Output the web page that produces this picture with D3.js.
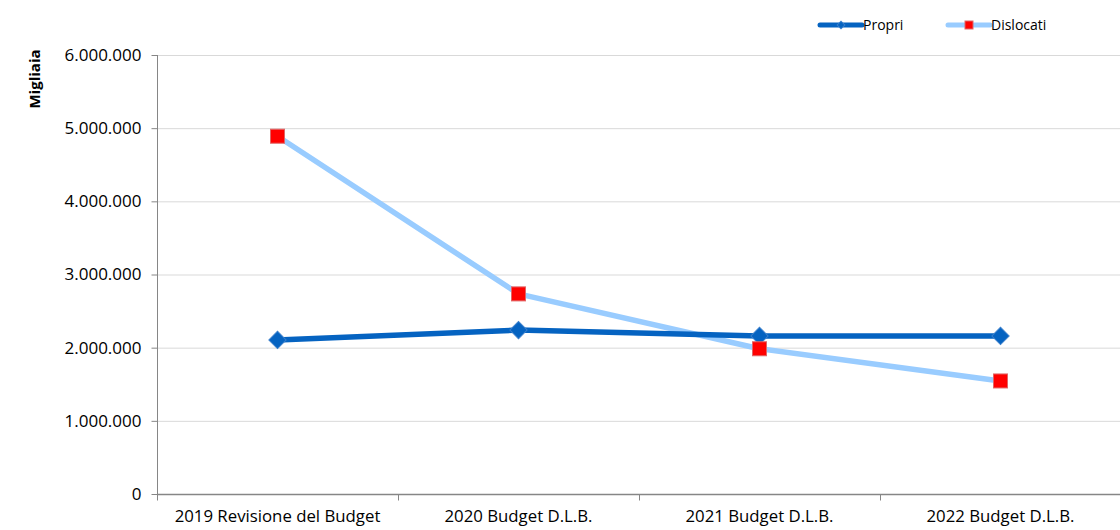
<!DOCTYPE html>
<html><head><meta charset="utf-8">
<script src="https://cdn.jsdelivr.net/npm/d3@7"></script>
<style>body{margin:0;background:#fff}svg{display:block}</style>
</head><body>
<svg id="c" width="1120" height="530"></svg>
<script>
const categories = ["2019 Revisione del Budget","2020 Budget D.L.B.","2021 Budget D.L.B.","2022 Budget D.L.B."];
const propri = [2105000, 2240000, 2160000, 2160000];
const dislocati = [4890000, 2735000, 1985000, 1545000];
const yTicks = [0,1000000,2000000,3000000,4000000,5000000,6000000];
const seriesNames = ["Propri","Dislocati"];

const svg = d3.select("#c");
const font = "'Open Sans', sans-serif";
const x = d3.scaleBand().domain(categories).range([157,1121]);
const y = d3.scaleLinear().domain([0,6000000]).range([494,55]);
const fmt = v => v===0 ? "0" : d3.format(",")(v).replace(/,/g,".");

// grid
svg.append("g").selectAll("line").data(yTicks.filter(d=>d>0)).join("line")
  .attr("x1",157).attr("x2",1120).attr("y1",d=>y(d)+0.5).attr("y2",d=>y(d)+0.5)
  .attr("stroke","#d9d9d9").attr("stroke-width",1);

// y axis
const ya = svg.append("g").attr("transform","translate(157.5,0)")
  .call(d3.axisLeft(y).tickValues(yTicks).tickFormat(fmt).tickSize(6).tickPadding(10));
ya.select(".domain").attr("stroke","#868686").attr("d","M0,55V494.5");
ya.selectAll(".tick line").attr("stroke","#868686");
ya.selectAll("text").attr("font-family",font).attr("font-size",17).attr("fill","#000");

// x axis
const xa = svg.append("g").attr("transform","translate(0,494.5)")
  .call(d3.axisBottom(x).tickSize(0).tickPadding(16));
xa.select(".domain").attr("stroke","#868686").attr("stroke-width",1.5).attr("d","M157,0H1120");
xa.selectAll("text").attr("font-family",font).attr("font-size",16.8).attr("fill","#000");
xa.selectAll(".tl").data([157,...categories.slice(1).map(c=>x(c)),]).join("line")
  .attr("class","tl").attr("x1",d=>Math.round(d)+0.5).attr("x2",d=>Math.round(d)+0.5)
  .attr("y1",0).attr("y2",6).attr("stroke","#868686");

// y title
svg.append("text").attr("transform","translate(40,79) rotate(-90)")
  .attr("text-anchor","middle").attr("font-family",font).attr("font-weight","bold")
  .attr("font-size",15).text("Migliaia");

const cx = c => x(c) + x.bandwidth()/2;
const line = d3.line().x((d,i)=>cx(categories[i])).y(d=>y(d));

svg.append("path").datum(dislocati).attr("d",line).attr("fill","none")
  .attr("stroke","#99ccff").attr("stroke-width",5.5).attr("stroke-linejoin","round");
svg.append("path").datum(propri).attr("d",line).attr("fill","none")
  .attr("stroke","#0563c1").attr("stroke-width",5.5).attr("stroke-linejoin","round");

const diamond = d3.symbol().type(d3.symbolSquare).size(150);
svg.append("g").selectAll("path").data(propri).join("path")
  .attr("d",diamond())
  .attr("transform",(d,i)=>`translate(${cx(categories[i])},${y(d)}) rotate(45)`)
  .attr("fill","#0563c1").attr("stroke","#3a7fcc").attr("stroke-width",1);
svg.append("g").selectAll("rect").data(dislocati).join("rect")
  .attr("x",(d,i)=>cx(categories[i])-7).attr("y",d=>y(d)-7)
  .attr("width",14).attr("height",14)
  .attr("fill","#ff0000").attr("stroke","#e06666").attr("stroke-width",1);

// legend
const lg = svg.append("g");
const legendItems = [
  {name:seriesNames[0], x:820, color:"#0563c1", marker:"diamond"},
  {name:seriesNames[1], x:948, color:"#99ccff", marker:"square"}
];
legendItems.forEach(it=>{
  lg.append("line").attr("x1",it.x).attr("x2",it.x+42).attr("y1",25).attr("y2",25)
    .attr("stroke",it.color).attr("stroke-width",5).attr("stroke-linecap","round");
  if(it.marker==="diamond"){
    lg.append("path").attr("d",d3.symbol().type(d3.symbolSquare).size(30)())
      .attr("transform",`translate(${it.x+21},25) rotate(45)`)
      .attr("fill","#0563c1").attr("stroke","#3a7fcc");
  } else {
    lg.append("rect").attr("x",it.x+17).attr("y",21).attr("width",8).attr("height",8)
      .attr("fill","#ff0000").attr("stroke","#e06666");
  }
  lg.append("text").attr("x",it.x+43).attr("y",30).attr("font-family",font)
    .attr("font-size",14).text(it.name);
});
</script>
</body></html>
